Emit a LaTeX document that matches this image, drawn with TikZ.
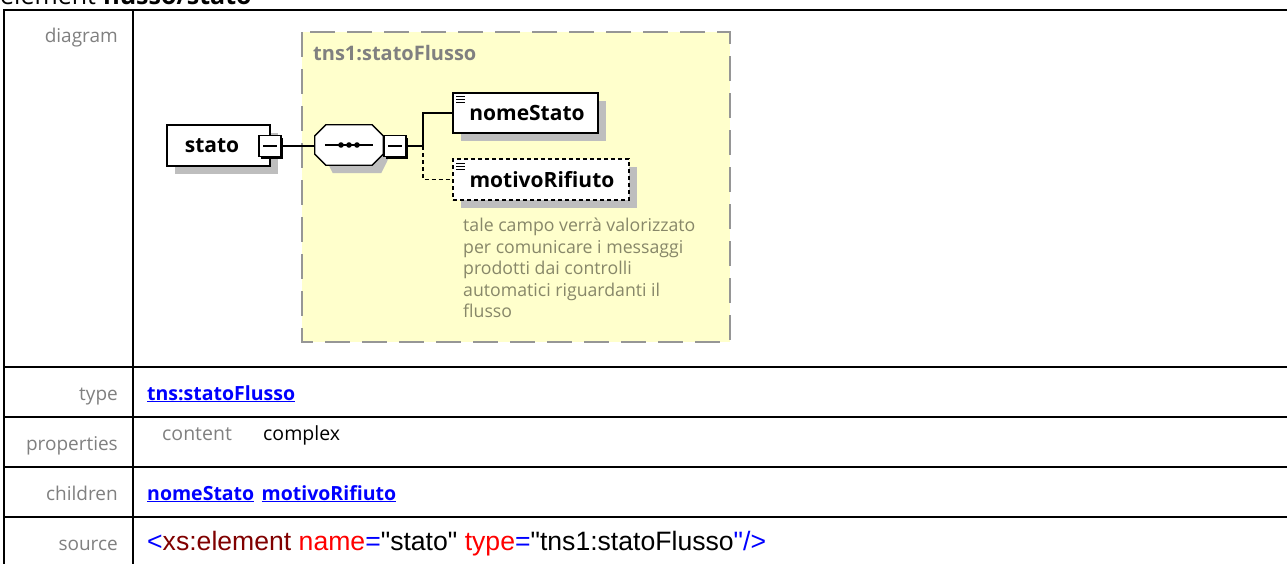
\documentclass[tikz,border=0pt]{standalone}
\usepackage{fontspec}
\setmainfont{Open Sans}
\newfontfamily\arialfont{Liberation Sans}
\usetikzlibrary{shadows,calc}
\definecolor{lblgray}{RGB}{128,128,128}
\definecolor{linkblue}{RGB}{0,0,255}
\definecolor{boxyellow}{RGB}{255,255,204}
\definecolor{dashgray}{RGB}{150,150,150}
\definecolor{shadowgray}{RGB}{190,190,190}
\definecolor{annot}{RGB}{135,135,105}
\definecolor{xmlred}{RGB}{255,0,0}
\definecolor{xmlmaroon}{RGB}{128,0,0}
\tikzset{
  tableline/.style={line width=2pt, black},
  lbl/.style={anchor=base east, inner sep=0, text=lblgray, font=\fontsize{19}{19}\selectfont},
  linktxt/.style={anchor=base west, inner sep=0, text=linkblue, font=\bfseries\fontsize{19.5}{19.5}\selectfont},
  elembox/.style={draw=black, line width=1.3pt, fill=white, inner sep=0,
    font=\bfseries\fontsize{21}{21}\selectfont,
    drop shadow={shadow xshift=8pt, shadow yshift=-8pt, fill=shadowgray, opacity=1}},
  minusbox/.style={draw=black, line width=1.2pt, fill=white, inner sep=0,
    minimum width=22pt, minimum height=21pt,
    drop shadow={shadow xshift=2pt, shadow yshift=-2pt, fill=black, opacity=1},
    path picture={\draw[line width=1.2pt] ([xshift=4pt]path picture bounding box.west) -- ([xshift=-4pt]path picture bounding box.east);}},
  conn/.style={line width=1.3pt, black},
  icon/.style={line width=0.8pt, black}
}
\begin{document}
\begin{tikzpicture}[x=1pt,y=-1pt]
\useasboundingbox (0,0) rectangle (1287,563);
\fill[white] (0,0) rectangle (1287,563);
% title
\node[anchor=base west, inner sep=0, font=\fontsize{25}{25}\selectfont] (title) at (0,4) {element \textbf{flusso/stato}};
% table lines
\draw[tableline] (4,10) -- (1290,10);
\draw[tableline] (4,9) -- (4,570);
\draw[tableline] (133,9) -- (133,570);
\draw[tableline] (4,367) -- (1290,367);
\draw[tableline] (4,417) -- (1290,417);
\draw[tableline] (4,467) -- (1290,467);
\draw[tableline] (4,517) -- (1290,517);
% labels
\node[lbl] (ldiagram) at (118,42) {diagram};
\node[lbl] (ltype) at (118,400) {type};
\node[lbl] (lprops) at (118,450) {properties};
\node[lbl] (lchildren) at (118,500) {children};
\node[lbl] (lsource) at (118,550) {source};
% values
\node[linktxt] (vtype) at (147,400) {\underline{tns:statoFlusso}};
\node[anchor=base west, inner sep=0, text=lblgray, font=\fontsize{19.5}{19.5}\selectfont] (vcontent) at (162,440) {content};
\node[anchor=base west, inner sep=0, font=\fontsize{19.5}{19.5}\selectfont] (vcomplex) at (263,440) {complex};
\node[linktxt] (vchild1) at (147,500) {\underline{nomeStato}};
\node[linktxt] (vchild2) at ([xshift=7pt]vchild1.base east) {\underline{motivoRifiuto}};
\node[anchor=base west, inner sep=0, font=\arialfont\fontsize{26.6}{26.6}\selectfont] (vsource) at (147,550)
  {\textcolor{linkblue}{<}\textcolor{xmlmaroon}{xs:element} \textcolor{xmlred}{name}\textcolor{linkblue}{=}"stato" \textcolor{xmlred}{type}\textcolor{linkblue}{=}"tns1:statoFlusso\textcolor{linkblue}{"/>}};
% diagram: complex type box
\draw[fill=boxyellow, draw=dashgray, line width=2.5pt, dash pattern=on 25pt off 12pt] (302,32) rectangle (730,342);
\node[anchor=base west, inner sep=0, text=lblgray, font=\bfseries\fontsize{20}{20}\selectfont] (ctname) at (313,60) {tns1:statoFlusso};
% stato element
\node[elembox, minimum width=103pt, minimum height=41pt] (stato) at (218.5,145.5) {stato\hspace{13pt}\mbox{}};
\node[minusbox] (statominus) at (270,146) {};
% sequence (octagon drawn around a named node)
\node[inner sep=0, minimum width=68pt, minimum height=40pt] (seq) at (349,145) {};
\fill[shadowgray] ($(seq.north west)+(18,8)$) -- ($(seq.north east)+(-2,8)$) -- ($(seq.east)+(8,8)$) -- ($(seq.south east)+(-2,8)$) -- ($(seq.south west)+(18,8)$) -- ($(seq.west)+(8,8)$) -- cycle;
\filldraw[fill=white, draw=black, line width=1.3pt] ($(seq.north west)+(11,0)$) -- ($(seq.north east)+(-11,0)$) -- ($(seq.north east)+(0,11)$) -- ($(seq.south east)+(0,-11)$) -- ($(seq.south east)+(-11,0)$) -- ($(seq.south west)+(11,0)$) -- ($(seq.south west)+(0,-11)$) -- ($(seq.north west)+(0,11)$) -- cycle;
\draw[line width=1.3pt] ($(seq.west)+(10,0)$) -- ($(seq.east)+(-10,0)$);
\foreach \dx in {-8,0,8} \fill ($(seq.center)+(\dx,0)$) circle (2.8pt);
\node[minusbox] (seqminus) at (395,146) {};
% children
\node[elembox, minimum width=145pt, minimum height=40pt] (nome) at (525.5,113) {\hspace{3pt}nomeStato};
\node[elembox, dashed, dash pattern=on 4pt off 3pt, minimum width=176pt, minimum height=41pt] (motivo) at (541,179.5) {\hspace{2pt}motivoRifiuto};
\foreach \yy in {96.5,99.5,102.5} {
  \draw[icon] (456,\yy) -- (465,\yy);
  \draw[icon] (456,\yy+66.5) -- (465,\yy+66.5);
}
% connectors
\coordinate (fork) at (423,146);
\draw[conn] (statominus.east) -- (seq.west |- statominus.east);
\draw[conn] (seqminus.east) -- (fork) |- (nome.west);
\draw[conn, dashed, dash pattern=on 4pt off 3pt] (fork) |- (motivo.west);
% annotation
\node[anchor=north west, inner sep=0, align=left, text=annot, font=\fontsize{17.7}{21.5}\selectfont] (annot) at (463,218)
  {tale campo verrà valorizzato\\per comunicare i messaggi\\prodotti dai controlli\\automatici riguardanti il\\flusso};
\end{tikzpicture}
\end{document}
